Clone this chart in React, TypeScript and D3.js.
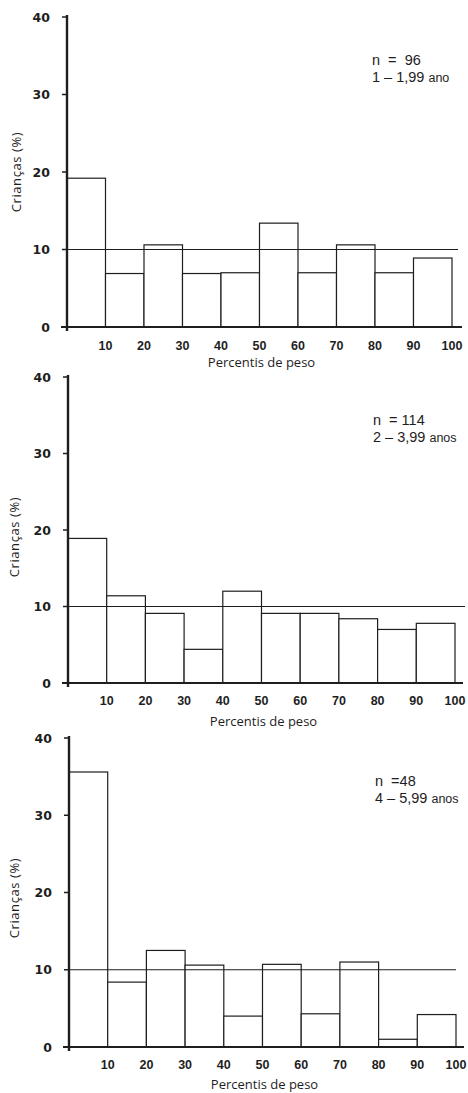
import React, { useEffect, useRef } from 'react';
import * as d3 from 'd3';

// percentile bins (upper edges) and tick labels
const binEdges = [0, 10, 20, 30, 40, 50, 60, 70, 80, 90, 100];
const xTicks = [10, 20, 30, 40, 50, 60, 70, 80, 90, 100];
const yTicks = [0, 10, 20, 30, 40];

// % of children per weight-percentile bin
const group1 = [19.2, 6.9, 10.6, 6.9, 7.0, 13.4, 7.0, 10.6, 7.0, 8.9];
const group2 = [18.9, 11.4, 9.1, 4.4, 12.0, 9.1, 9.1, 8.4, 7.0, 7.8];
const group3 = [35.6, 8.4, 12.5, 10.6, 4.0, 10.7, 4.3, 11.0, 1.0, 4.2];

const nLabels = ['n\u00a0 =\u00a0 96', 'n\u00a0 = 114', 'n\u00a0 =48'];
const ageNums = ['1 – 1,99', '2 – 3,99', '4 – 5,99'];
const ageUnits = ['ano', 'anos', 'anos'];
const reference = 10;

const App = () => {
  const svgRef = useRef(null);

  useEffect(() => {
    if (!svgRef.current) return;
    const svg = d3.select(svgRef.current);
    svg.selectAll('*').remove();

    const ink = '#1e1e1e';
    const sans = '"Liberation Sans", Arial, Helvetica, sans-serif';
    const humanist = '"Open Sans", "Noto Sans", sans-serif';
    const wide = '"DejaVu Sans", sans-serif';

    // layout of each panel on the page
    const panels = [
      { data: group1, x0: 67, x1: 452, y0: 327, y40: 17, refEnd: 458, xEnd: 462, tickY: 350, labelY: 367, yLab: 172, yLabX: 21, nx: 372 },
      { data: group2, x0: 68, x1: 455, y0: 683, y40: 377, refEnd: 465, xEnd: 463, tickY: 705, labelY: 726, yLab: 537, yLabX: 19, nx: 373 },
      { data: group3, x0: 69, x1: 456, y0: 1047, y40: 738, refEnd: 456, xEnd: 464, tickY: 1069, labelY: 1089, yLab: 898, yLabX: 19, nx: 375 },
    ];

    panels.forEach((p, k) => {
      const x = d3.scaleLinear().domain([0, 100]).range([p.x0, p.x1]);
      const y = d3.scaleLinear().domain([0, 40]).range([p.y0, p.y40]);
      const g = svg.append('g');

      // bars
      g.append('g')
        .selectAll('rect')
        .data(p.data)
        .join('rect')
        .attr('x', (d, i) => x(binEdges[i]))
        .attr('width', (d, i) => x(binEdges[i + 1]) - x(binEdges[i]))
        .attr('y', d => y(d))
        .attr('height', d => y(0) - y(d))
        .attr('fill', 'white')
        .attr('stroke', ink)
        .attr('stroke-width', 1.2);

      // reference line at 10%
      g.append('line')
        .attr('x1', x(0)).attr('x2', p.refEnd)
        .attr('y1', y(reference)).attr('y2', y(reference))
        .attr('stroke', ink).attr('stroke-width', 1.2);

      // axes
      g.append('line')
        .attr('x1', x(0) - 6).attr('x2', p.xEnd)
        .attr('y1', y(0)).attr('y2', y(0))
        .attr('stroke', ink).attr('stroke-width', 2.2);
      g.append('line')
        .attr('x1', x(0)).attr('x2', x(0))
        .attr('y1', y(40) - 2).attr('y2', y(0) + 4)
        .attr('stroke', ink).attr('stroke-width', 2.4);

      g.selectAll('.ytick')
        .data(yTicks)
        .join('line')
        .attr('x1', x(0) - 5).attr('x2', x(0))
        .attr('y1', d => y(d)).attr('y2', d => y(d))
        .attr('stroke', ink).attr('stroke-width', 1.5);

      g.selectAll('.ylab')
        .data(yTicks)
        .join('text')
        .attr('x', x(0) - 17)
        .attr('y', d => y(d) + 4.5)
        .attr('text-anchor', 'end')
        .attr('font-family', wide)
        .attr('font-weight', 'bold')
        .attr('font-size', 12.5)
        .attr('fill', ink)
        .text(d => d);

      g.selectAll('.xlab')
        .data(xTicks)
        .join('text')
        .attr('x', d => x(d))
        .attr('y', p.tickY)
        .attr('text-anchor', 'middle')
        .attr('font-family', sans)
        .attr('font-weight', 'bold')
        .attr('font-size', 12.5)
        .attr('fill', ink)
        .text(d => d);

      g.append('text')
        .attr('x', (x(0) + x(100)) / 2 + 2)
        .attr('y', p.labelY)
        .attr('text-anchor', 'middle')
        .attr('font-family', humanist)
        .attr('font-size', 13)
        .attr('fill', ink)
        .text('Percentis de peso');

      g.append('text')
        .attr('transform', `translate(${p.yLabX},${p.yLab}) rotate(-90)`)
        .attr('text-anchor', 'middle')
        .attr('font-family', humanist)
        .attr('font-size', 13)
        .attr('letter-spacing', 0.6)
        .attr('fill', ink)
        .text('Crianças (%)');

      // group annotation
      const ny = y(40) + 48;
      g.append('text')
        .attr('x', p.nx)
        .attr('y', ny)
        .attr('font-family', sans)
        .attr('font-size', 14.5)
        .attr('fill', ink)
        .text(nLabels[k]);
      const age = g.append('text')
        .attr('x', p.nx)
        .attr('y', ny + 17)
        .attr('font-family', sans)
        .attr('font-size', 14.5)
        .attr('fill', ink);
      age.append('tspan').text(ageNums[k] + ' ');
      age.append('tspan').attr('font-size', 12.5).text(ageUnits[k]);
    });
  }, []);

  return (
    <svg
      ref={svgRef}
      width={468}
      height={1093}
      style={{ position: 'absolute', left: 0, top: 0, background: 'white' }}
    />
  );
};

export default App;
